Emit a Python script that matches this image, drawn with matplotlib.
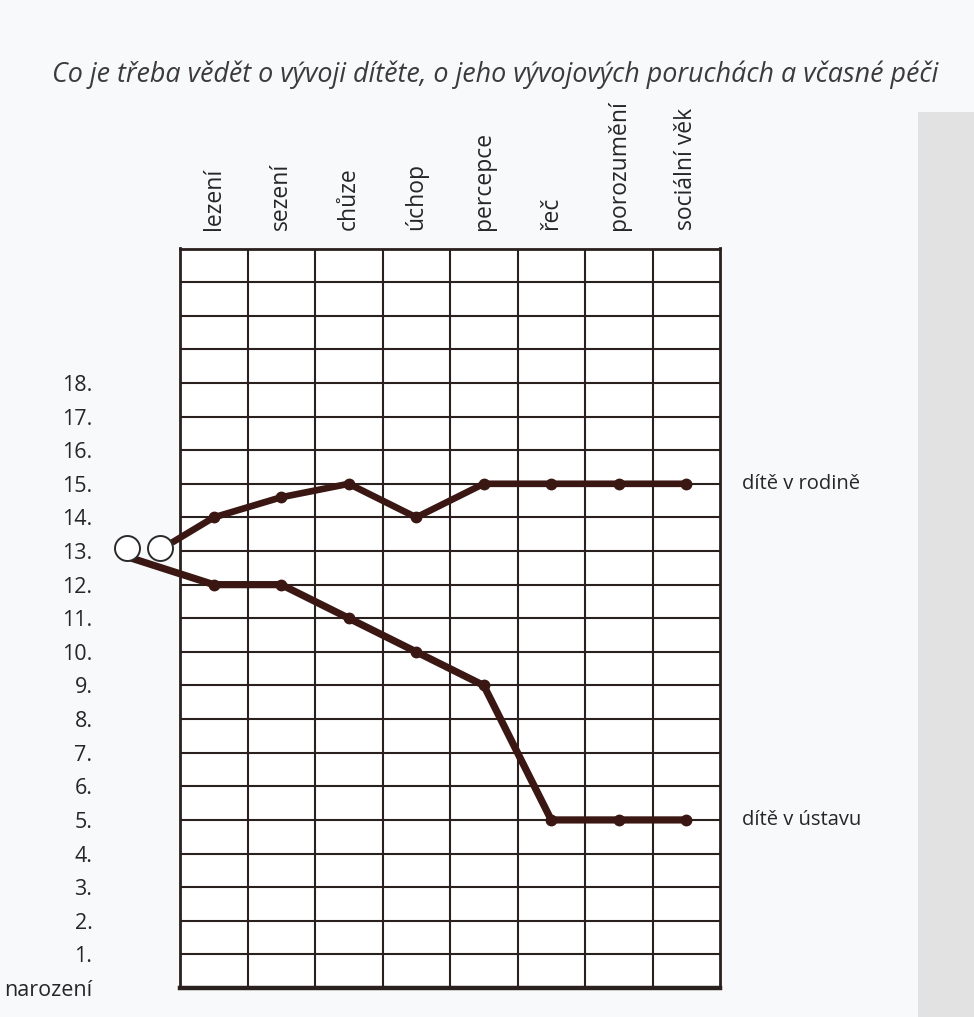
import matplotlib
matplotlib.use("Agg")
import matplotlib.pyplot as plt
from matplotlib.patches import Rectangle

plt.rcParams['font.family'] = ['Open Sans', 'DejaVu Sans']

# data
categories = ['lezení', 'sezení', 'chůze', 'úchop', 'percepce', 'řeč', 'porozumění', 'sociální věk']
rodina = [14, 14.6, 15, 14, 15, 15, 15, 15]
ustav = [12, 12, 11, 10, 9, 5, 5, 5]
# birth state (the two circles) and where each line leaves them
birth_x = [-0.78, -0.3]
birth_y = [13.1, 13.1]
rodina_start = (-0.12, 13.25)
ustav_start = (-0.74, 12.8)
row_labels = ['narození'] + ['%d.' % i for i in range(1, 19)]

ink = '#3a1712'
grid_c = '#2a201d'
text_c = '#262626'

fig = plt.figure(figsize=(9.74, 10.17), dpi=100)
fig.patch.set_facecolor('#f7f9fb')

# grey column at the right edge of the page
fig.add_artist(Rectangle((918 / 974, 0), 56 / 974, (1017 - 112) / 1017,
                         transform=fig.transFigure, facecolor='#e2e2e2',
                         edgecolor='none', zorder=0))

fig.text(52 / 974, 1 - 75 / 1017,
         'Co je třeba vědět o vývoji dítěte, o jeho vývojových poruchách a včasné péči',
         fontsize=19.4, style='italic', color='#3c3a3a', ha='left', va='center')

ax = fig.add_axes([180 / 974, 1 - 988 / 1017, 540 / 974, (988 - 248.5) / 1017])
ax.set_facecolor('white')
ax.set_xlim(0, len(categories))
ax.set_ylim(0, 22)

ax.hlines(range(1, 22), 0, len(categories), color=grid_c, lw=1.5, zorder=1)
ax.vlines(range(1, len(categories)), 0, 22, color=grid_c, lw=1.5, zorder=1)
for side in ['left', 'right', 'top']:
    ax.spines[side].set_linewidth(2.0)
    ax.spines[side].set_color(grid_c)
ax.spines['bottom'].set_linewidth(3.2)
ax.spines['bottom'].set_color(grid_c)

ax.set_xticks([])
ax.set_yticks(range(0, 19))
ax.set_yticklabels(row_labels, fontsize=15.5, color=text_c)
ax.tick_params(axis='y', length=0, pad=63)

xs = [i + 0.5 for i in range(len(categories))]
for i, lab in enumerate(categories):
    ax.annotate(lab, xy=(xs[i], 22), xytext=(0, 13), textcoords='offset points',
                rotation=90, ha='center', va='bottom', fontsize=16.5, color=text_c,
                annotation_clip=False)

# lines
ax.plot([rodina_start[0]] + xs, [rodina_start[1]] + rodina, color=ink, lw=4.8,
        solid_capstyle='butt', clip_on=False, zorder=3)
ax.plot(xs, rodina, 'o', color=ink, ms=7.5, zorder=4)
ax.plot([ustav_start[0]] + xs, [ustav_start[1]] + ustav, color=ink, lw=5.2,
        solid_capstyle='butt', clip_on=False, zorder=3)
ax.plot(xs, ustav, 'o', color=ink, ms=7.5, zorder=4)

ax.plot(birth_x, birth_y, 'o', ms=18, mfc='white', mec='#2a2a2a', mew=1.4,
        clip_on=False, zorder=5)

ax.annotate('dítě v rodině', xy=(len(categories), rodina[-1]), xytext=(16, 0),
            textcoords='offset points', ha='left', va='center', fontsize=14.5,
            color=text_c, annotation_clip=False)
ax.annotate('dítě v ústavu', xy=(len(categories), ustav[-1]), xytext=(16, 0),
            textcoords='offset points', ha='left', va='center', fontsize=14.5,
            color=text_c, annotation_clip=False)

plt.savefig('out.png', dpi=100, facecolor=fig.get_facecolor())
